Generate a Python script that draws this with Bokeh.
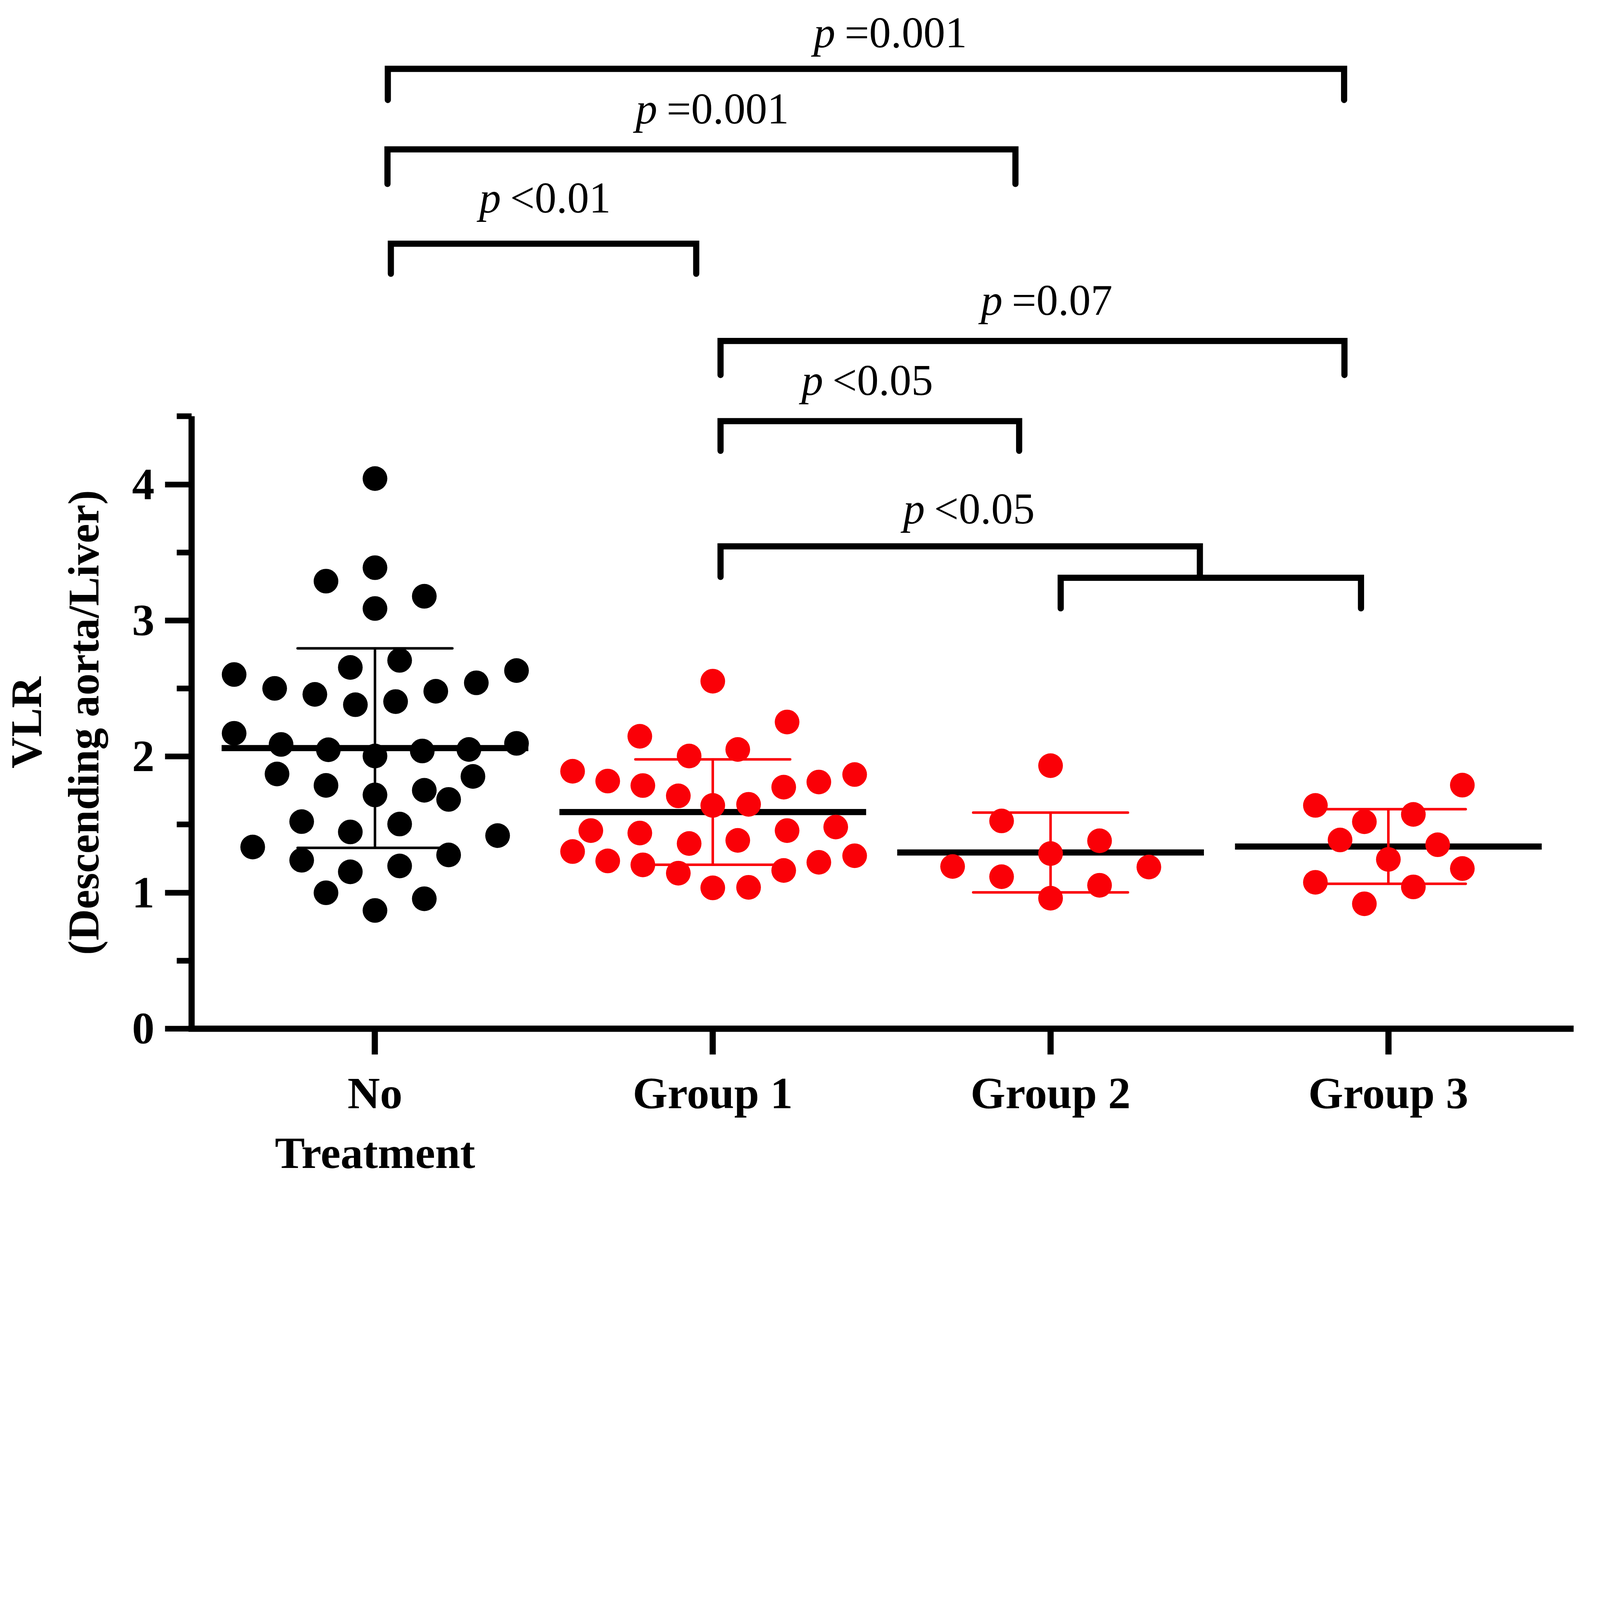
from math import pi
from bokeh.plotting import figure
from bokeh.models import Range1d, FixedTicker, ColumnDataSource
from bokeh.core.properties import value
from bokeh.embed import file_html
from bokeh.resources import INLINE

# ---------------- data ----------------
categories = ["No\nTreatment", "Group 1", "Group 2", "Group 3"]
group_colors = ["#000000", "#FA0007", "#FA0007", "#FA0007"]

no_treatment = [4.043, 3.388, 3.289, 3.178, 3.088, 2.603, 2.632, 2.655, 2.707, 2.501,
                2.457, 2.381, 2.404, 2.480, 2.542, 2.171, 2.097, 2.089, 2.050, 2.004,
                2.041, 2.052, 1.872, 1.788, 1.718, 1.752, 1.685, 1.854, 1.522, 1.446,
                1.504, 1.335, 1.419, 1.238, 1.277, 1.153, 1.196, 0.999, 0.955, 0.869]
no_treatment_jitter = [0.0, 0.0, -0.145, 0.146, 0.0, -0.417, 0.419, -0.073, 0.073, -0.297,
                       -0.178, -0.058, 0.061, 0.180, 0.300, -0.417, 0.419, -0.278, -0.138, 0.0,
                       0.140, 0.278, -0.290, -0.145, 0.0, 0.146, 0.218, 0.290, -0.217, -0.073,
                       0.073, -0.362, 0.363, -0.217, 0.218, -0.073, 0.073, -0.145, 0.146, 0.0]

group1 = [2.554, 2.254, 2.149, 2.004, 2.052, 1.892, 1.820, 1.787, 1.711, 1.641,
          1.649, 1.775, 1.813, 1.868, 1.456, 1.438, 1.361, 1.384, 1.456, 1.482,
          1.302, 1.233, 1.204, 1.143, 1.163, 1.223, 1.271, 1.035, 1.039]
group1_jitter = [0.0, 0.220, -0.216, -0.070, 0.074, -0.415, -0.311, -0.207, -0.102, 0.0,
                 0.106, 0.210, 0.314, 0.420, -0.361, -0.216, -0.070, 0.074, 0.220, 0.364,
                 -0.415, -0.311, -0.207, -0.102, 0.210, 0.314, 0.420, 0.0, 0.106]

group2 = [1.933, 1.527, 1.381, 1.287, 1.192, 1.188, 1.117, 1.054, 0.959]
group2_jitter = [0.0, -0.145, 0.145, 0.0, -0.290, 0.291, -0.145, 0.145, 0.0]

group3 = [1.790, 1.641, 1.575, 1.521, 1.387, 1.352, 1.244, 1.177, 1.076, 1.042, 0.918]
group3_jitter = [0.219, -0.216, 0.074, -0.071, -0.143, 0.146, 0.0, 0.219, -0.216, 0.074, -0.071]

group_means = [2.062, 1.592, 1.295, 1.339]
group_sds = [0.733, 0.387, 0.293, 0.274]

y_ticks = [0, 1, 2, 3, 4]
y_minor_ticks = [0.5, 1.5, 2.5, 3.5, 4.5]
y_title = ["VLR", "(Descending aorta/Liver)"]

# significance brackets: left x, right x, bar height, left foot, right foot
bracket_left = [0.038, 0.037, 0.047, 1.023, 1.023, 1.023, 2.030]
bracket_right = [2.869, 1.896, 0.951, 2.870, 1.907, 2.442, 2.919]
bracket_top = [7.054, 6.462, 5.769, 5.054, 4.465, 3.545, 3.314]
bracket_left_foot = [6.825, 6.208, 5.548, 4.804, 4.247, 3.320, 3.089]
bracket_right_foot = [6.825, 6.208, 5.548, 4.804, 4.247, 3.314, 3.089]

p_values = ["=0.001", "=0.001", "<0.01", "=0.07", "<0.05", "<0.05"]
p_label_x = [1.377, 0.850, 0.387, 1.872, 1.341, 1.642]
p_label_y = [7.219, 6.658, 6.004, 5.252, 4.665, 3.720]

# ---------------- figure ----------------
FONT = "Liberation Serif"
K = 1 / 1.3923          # CSS px per photographed px


def px(v):
    return v * K


def fs(v):
    return f"{v * K:.1f}px"


W, H = 4078, 3028
p = figure(width=W, height=H, output_backend="svg", toolbar_location=None,
           x_range=Range1d(-1.1095, 3.6063), y_range=Range1d(-1.134, 7.5585),
           min_border=0)
p.outline_line_color = None
p.xgrid.visible = False
p.ygrid.visible = False
p.background_fill_color = "white"
p.border_fill_color = "white"

# x axis (drawn at y = 0)
xa = p.xaxis[0]
xa.fixed_location = 0
xa.bounds = (-0.552, 3.548)
xa.ticker = FixedTicker(ticks=list(range(len(categories))))
xa.major_label_overrides = {i: c for i, c in enumerate(categories)}
xa.axis_line_width = px(22)
xa.axis_line_color = "black"
xa.major_tick_line_width = px(22)
xa.major_tick_out = round(px(92))
xa.major_tick_in = 0
xa.minor_tick_line_color = None
xa.major_label_standoff = round(px(50))
xa.major_label_text_font = FONT
xa.major_label_text_font_style = "bold"
xa.major_label_text_font_size = fs(160)
xa.major_label_text_color = "black"

# y axis
ya = p.yaxis[0]
ya.fixed_location = -0.543
ya.bounds = (0, 4.5)
ya.ticker = FixedTicker(ticks=y_ticks, minor_ticks=y_minor_ticks)
ya.axis_line_width = px(22)
ya.axis_line_color = "black"
ya.major_tick_line_width = px(20)
ya.minor_tick_line_width = px(20)
ya.minor_tick_line_color = "black"
ya.major_tick_out = round(px(94))
ya.major_tick_in = 0
ya.minor_tick_out = round(px(53))
ya.minor_tick_in = 0
ya.major_label_standoff = round(px(38))
ya.major_label_text_font = FONT
ya.major_label_text_font_style = "bold"
ya.major_label_text_font_size = fs(160)
ya.major_label_text_color = "black"

# y axis title (two lines, centred on the axis extent)
p.text(x=[-1.0316, -0.862], y=[2.25, 2.25], text=y_title, angle=pi / 2,
       text_align="center", text_baseline="middle", text_font=value(FONT),
       text_font_style="bold", text_font_size=fs(155), text_color="black")

# mean lines and SD bars
idx = list(range(len(categories)))
p.segment(x0=[i - 0.454 for i in idx], x1=[i + 0.454 for i in idx],
          y0=group_means, y1=group_means, line_color="black", line_width=px(22),
          line_cap="butt")
lo = [m - s for m, s in zip(group_means, group_sds)]
hi = [m + s for m, s in zip(group_means, group_sds)]
p.segment(x0=idx, x1=idx, y0=lo, y1=hi, line_color=group_colors, line_width=px(9))
p.segment(x0=[i - 0.229 for i in idx], x1=[i + 0.229 for i in idx], y0=hi, y1=hi,
          line_color=group_colors, line_width=px(9), line_cap="round")
p.segment(x0=[i - 0.229 for i in idx], x1=[i + 0.229 for i in idx], y0=lo, y1=lo,
          line_color=group_colors, line_width=px(9), line_cap="round")

# points
groups = [(no_treatment, no_treatment_jitter), (group1, group1_jitter),
          (group2, group2_jitter), (group3, group3_jitter)]
for i, (vals, jit) in enumerate(groups):
    p.scatter(x=[i + j for j in jit], y=vals, marker="circle", size=px(88),
              fill_color=group_colors[i], line_color=None)

# brackets
xs = [[l, l, r, r] for l, r in zip(bracket_left, bracket_right)]
ys = [[lf, t, t, rf] for t, lf, rf in zip(bracket_top, bracket_left_foot, bracket_right_foot)]
p.multi_line(xs=xs, ys=ys, line_color="black", line_width=px(22),
             line_join="miter", line_cap="round")

src = ColumnDataSource(dict(x=p_label_x, y=p_label_y, op=p_values,
                            pp=["p"] * len(p_values)))
p.text(x="x", y="y", text="pp", source=src, text_align="right",
       text_baseline="alphabetic", x_offset=px(-17), y_offset=px(-49),
       text_font=value(FONT), text_font_style="italic", text_font_size=fs(155),
       text_color="black")
p.text(x="x", y="y", text="op", source=src, text_align="left",
       text_baseline="alphabetic", x_offset=px(16), y_offset=px(-49),
       text_font=value(FONT), text_font_style="normal", text_font_size=fs(155),
       text_color="black")

open("out.html", "w").write(file_html(p, INLINE))
